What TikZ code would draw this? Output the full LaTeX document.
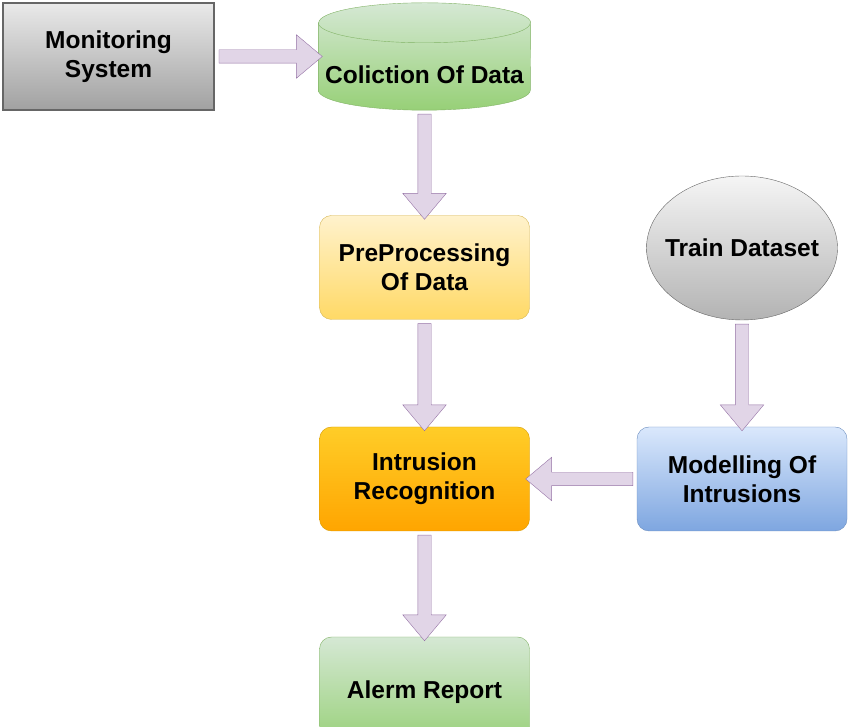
\documentclass[tikz,border=0pt]{standalone}
\usepackage{fontspec}
\setmainfont{Liberation Sans}
\usetikzlibrary{shapes.geometric,shapes.arrows,calc}

\definecolor{arrowfill}{HTML}{E1D5E7}
\definecolor{arrowline}{HTML}{9673A6}
\definecolor{greentop}{HTML}{D5E8D4}
\definecolor{greenbot}{HTML}{97D077}
\definecolor{greenline}{HTML}{82B366}
\definecolor{yellowtop}{HTML}{FFF2CC}
\definecolor{yellowbot}{HTML}{FFD966}
\definecolor{yellowline}{HTML}{D6B656}
\definecolor{orangetop}{HTML}{FFCD28}
\definecolor{orangebot}{HTML}{FFA500}
\definecolor{orangeline}{HTML}{D79B00}
\definecolor{bluetop}{HTML}{DAE8FC}
\definecolor{bluebot}{HTML}{7EA6E0}
\definecolor{blueline}{HTML}{6C8EBF}
\definecolor{graytop}{HTML}{F5F5F5}
\definecolor{graybot}{HTML}{B3B3B3}
\definecolor{grayline}{HTML}{666666}

\tikzset{
	label font/.style={font=\fontsize{24.5}{29}\selectfont\bfseries},
	box/.style={draw, align=center, rounded corners=12pt, minimum width=210pt, minimum height=104pt, label font},
	barrow/.style={single arrow, draw=arrowline, fill=arrowfill, inner sep=6.5pt, outer sep=0pt,
		single arrow head extend=15pt, single arrow tip angle=80}
}

\newcommand{\blockarrow}[2]{%
	\path let \p1=($(#2)-(#1)$), \n1={veclen(\x1,\y1)}, \n2={atan2(\y1,\x1)} in
		($(#1)!0.5!(#2)$) node[barrow, minimum height=\n1, rotate=\n2] {};}

\begin{document}
\begin{tikzpicture}[x=1pt, y=1pt]
	\useasboundingbox (0,0) rectangle (850,727);
	\node [box, rounded corners=0pt, minimum width=211pt, minimum height=107pt, draw=grayline, line width=2pt,
		top color=graytop!90!gray, bottom color=graybot!90!black] (mon) at (108.5,670.5) {Monitoring \\ System};
	\node [minimum width=212pt, minimum height=107pt] (col) at (424.5,670.5) {};
	\path [draw=greenline, top color=greentop, bottom color=greenbot]
		([yshift=-20pt]col.north west) -- ([yshift=20pt]col.south west)
		arc [start angle=180, end angle=360, x radius=106pt, y radius=20pt]
		-- ([yshift=-20pt]col.north east)
		arc [start angle=0, end angle=180, x radius=106pt, y radius=20pt] -- cycle;
	\draw [greenline] ([yshift=-20pt]col.north west)
		arc [start angle=180, end angle=360, x radius=106pt, y radius=20pt];
	\node [label font] (coltext) at ([yshift=-18pt]col.center) {Coliction Of Data};
	\node [box, draw=yellowline, top color=yellowtop, bottom color=yellowbot] (pre) at (424.5,459.5) {PreProcessing \\ Of Data};
	\node [box, draw=orangeline, top color=orangetop, bottom color=orangebot] (intr) at (424.5,248) {Intrusion \\ Recognition};
	\node [box, draw=greenline, top color=greentop, bottom color=greenbot, minimum height=110pt] (alr) at (424.5,35) {Alerm Report};
	\node [ellipse, draw=grayline, minimum width=191pt, minimum height=144pt, top color=graytop, bottom color=graybot,
		label font] (train) at (742,479) {\makebox[0pt]{Train Dataset}};
	\node [box, draw=blueline, top color=bluetop, bottom color=bluebot] (model) at (742,248) {Modelling Of \\ Intrusions};

	\blockarrow{mon.east}{col.west}
	\blockarrow{col.south}{pre.north}
	\blockarrow{pre.south}{intr.north}
	\blockarrow{intr.south}{alr.north}
	\blockarrow{train.south}{model.north}
	\blockarrow{model.west}{intr.east}
\end{tikzpicture}
\end{document}
